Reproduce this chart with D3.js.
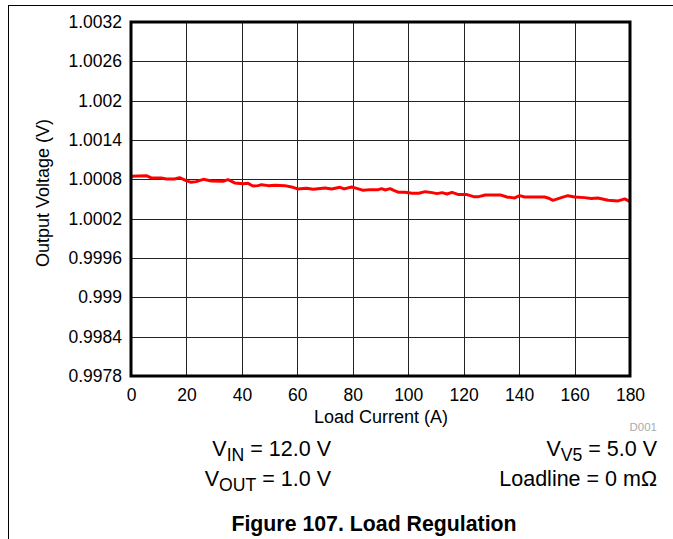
<!DOCTYPE html>
<html><head><meta charset="utf-8">
<script src="https://cdn.jsdelivr.net/npm/d3@7"></script>
<style>
html,body{margin:0;padding:0;background:#fff;}
svg{display:block;font-family:"Liberation Sans",Arial,sans-serif;}
</style></head>
<body><svg id="c" width="673" height="539"></svg>
<script>
const loadCurrent = [0,5.5,7.3,10.9,12.7,15.7,17.5,19.9,21.7,23.5,26.1,29.0,33.2,35.0,37.4,40.4,42.2,44.0,45.8,47.1,49.5,51.9,55.5,57.9,60.1,63.3,65.7,70.0,72.4,75.4,76.9,79.6,80.8,83.8,86.2,89.2,90.4,91.6,93.5,94.8,96.6,98.9,101.4,103.8,106.2,108.6,110.4,112.2,114.0,115.8,118.2,121.2,123.6,125.4,127.8,133.2,135.6,137.4,138.4,140.2,142.0,149.2,150.4,152.2,155.2,157.6,160.0,163.6,166.0,168.4,172.1,175.7,178.1,180];
const outputVoltage = [1.000846,1.000856,1.000821,1.000821,1.000806,1.000806,1.000826,1.000780,1.000754,1.000765,1.000800,1.000776,1.000770,1.000795,1.000745,1.000734,1.000739,1.000699,1.000704,1.000719,1.000704,1.000709,1.000704,1.000684,1.000654,1.000663,1.000648,1.000669,1.000654,1.000678,1.000654,1.000684,1.000669,1.000632,1.000643,1.000643,1.000658,1.000638,1.000658,1.000632,1.000602,1.000602,1.000587,1.000587,1.000612,1.000597,1.000582,1.000597,1.000577,1.000602,1.000567,1.000567,1.000536,1.000536,1.000562,1.000562,1.000531,1.000521,1.000516,1.000551,1.000531,1.000531,1.000516,1.000480,1.000521,1.000551,1.000531,1.000521,1.000506,1.000516,1.000480,1.000471,1.000501,1.000460];
const xTicks = [0,20,40,60,80,100,120,140,160,180];
const yTicks = [0.9978,0.9984,0.999,0.9996,1.0002,1.0008,1.0014,1.002,1.0026,1.0032];
const yTickLabels = ["0.9978","0.9984","0.999","0.9996","1.0002","1.0008","1.0014","1.002","1.0026","1.0032"];

const svg = d3.select("#c");
const L = 131, R = 630, T = 22, B = 376;
const x = d3.scaleLinear().domain([0,180]).range([L,R]);
const y = d3.scaleLinear().domain([0.9978,1.0032]).range([B,T]);
const FONT = "Liberation Sans, Arial, sans-serif";

// outer frame
svg.append("line").attr("x1",8.5).attr("x2",673).attr("y1",5.5).attr("y2",5.5).attr("stroke","#000").attr("stroke-width",1);
svg.append("line").attr("x1",8.5).attr("x2",8.5).attr("y1",5).attr("y2",539).attr("stroke","#000").attr("stroke-width",1);

// grid
const g = svg.append("g");
g.selectAll("line.v").data(xTicks).join("line").attr("class","v")
  .attr("x1",d=>Math.round(x(d))+0.5).attr("x2",d=>Math.round(x(d))+0.5).attr("y1",T).attr("y2",B)
  .attr("stroke","#222").attr("stroke-width",1);
g.selectAll("line.h").data(yTicks).join("line").attr("class","h")
  .attr("y1",d=>Math.round(y(d))+0.5).attr("y2",d=>Math.round(y(d))+0.5).attr("x1",L).attr("x2",R)
  .attr("stroke","#222").attr("stroke-width",1);

// axes via d3 axis
const ax = svg.append("g").attr("transform",`translate(0,${B})`)
  .call(d3.axisBottom(x).tickValues(xTicks).tickSize(0).tickPadding(13).tickFormat(d3.format("d")));
ax.select(".domain").remove();
ax.selectAll("text").attr("font-size",17.5).attr("fill","#000").attr("font-family",FONT);

const ay = svg.append("g").attr("transform",`translate(${L},0)`)
  .call(d3.axisLeft(y).tickValues(yTicks).tickSize(0).tickPadding(9).tickFormat((d,i)=>yTickLabels[i]));
ay.select(".domain").remove();
ay.selectAll("text").attr("font-size",17.5).attr("fill","#000").attr("font-family",FONT);

// data line
svg.append("path").datum(loadCurrent.map((c,i)=>[c,outputVoltage[i]]))
  .attr("d", d3.line().x(d=>x(d[0])).y(d=>y(d[1])))
  .attr("fill","none").attr("stroke","#ff0000").attr("stroke-width",3).attr("stroke-linejoin","round");

// plot frame
svg.append("rect").attr("x",L).attr("y",T).attr("width",R-L).attr("height",B-T)
  .attr("fill","none").attr("stroke","#000").attr("stroke-width",3);

// axis titles
svg.append("text").attr("x",381).attr("y",423).attr("text-anchor","middle").attr("font-size",18).text("Load Current (A)");
svg.append("text").attr("transform",`translate(49,193) rotate(-90)`).attr("text-anchor","middle").attr("font-size",18).text("Output Voltage (V)");
svg.append("text").attr("x",657).attr("y",431).attr("text-anchor","end").attr("font-size",11.5).attr("fill","#aaa").text("D001");

// annotations
function sub(t, main, s, rest){
  t.append("tspan").text(main);
  t.append("tspan").attr("font-size","0.82em").attr("dy",5).text(s);
  t.append("tspan").attr("dy",-5).text(rest);
}
const a1 = svg.append("text").attr("x",331).attr("y",456).attr("text-anchor","end").attr("font-size",21.5); sub(a1,"V","IN"," = 12.0 V");
const a2 = svg.append("text").attr("x",331).attr("y",486).attr("text-anchor","end").attr("font-size",21.5); sub(a2,"V","OUT"," = 1.0 V");
const a3 = svg.append("text").attr("x",657).attr("y",456).attr("text-anchor","end").attr("font-size",21.5); sub(a3,"V","V5"," = 5.0 V");
svg.append("text").attr("x",657).attr("y",486).attr("text-anchor","end").attr("font-size",21.5).text("Loadline = 0 mΩ");

svg.append("text").attr("x",374).attr("y",531).attr("text-anchor","middle").attr("font-size",21.3).attr("font-weight","bold").text("Figure 107. Load Regulation");
</script></body></html>
